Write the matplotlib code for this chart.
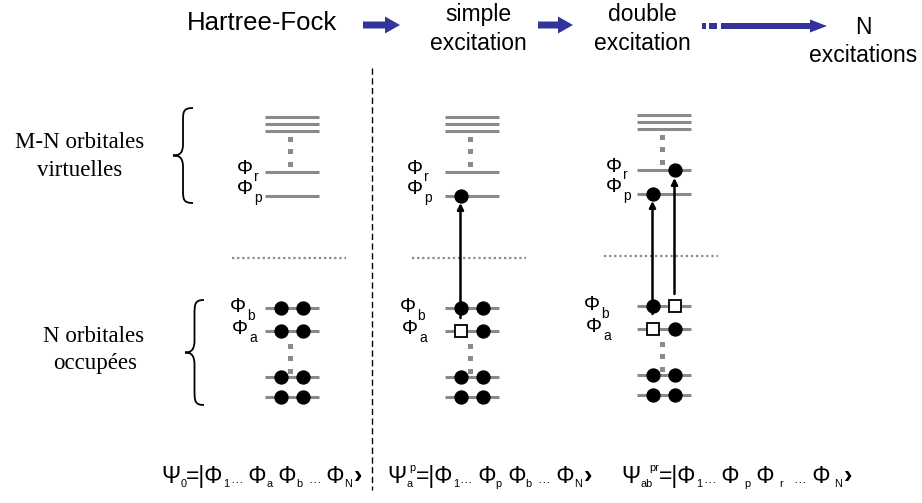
import matplotlib
matplotlib.use("Agg")
import matplotlib.pyplot as plt
from matplotlib.patches import FancyArrow, Rectangle, PathPatch
from matplotlib.path import Path

# --- diagram data (pixel units, y grows downwards) ---
panel_x0 = [265, 445, 637]          # left end of the orbital levels
panel_dy = [0, 0, -2]
level_len = 54
virt_stack_y = [117, 124, 131]
virt_dash_y = [139, 151, 164]
phi_r_y = 172
phi_p_y = 196
occ_b_y = 308
occ_a_y = 331
occ_low_y = [377, 397]
occ_dash_y = [346, 358, 371]
sep_y = 258
slot_dx = [15.5, 37.5]
dash_dx = 24.5

# e = electron, h = hole, - = empty  (one string per panel, two slots)
occ_r = ["--", "--", "-e"]
occ_p = ["--", "e-", "e-"]
occ_b = ["ee", "ee", "eh"]
occ_a = ["ee", "he", "he"]
occ_low = ["ee", "ee", "ee"]

# (slot, y_from, y_to) per panel
exc_arrows = [[], [(0, 318, 203)], [(0, 314, 201), (1, 294, 178)]]

label_x_rp = [245, 415, 614]
label_x_ba = [238, 408, 592]

top_titles = [("Hartree-Fock", 262, 23, 18.5),
              ("simple", 478, 14, 16.5), ("excitation", 478, 43, 16.5),
              ("double", 642, 14, 16.5), ("excitation", 642, 43, 16.5),
              ("N", 863, 27, 16.5), ("excitations", 863, 55, 16.5)]

f1 = [("Ψ", "n"), ("0", "sub"), ("=|Φ", "n"), ("1", "sub"), ("…", "dots"),
      (" Φ", "n"), ("a", "sub"), (" Φ", "n"), ("b", "sub"), (" ", "n"),
      ("…", "dots"), (" Φ", "n"), ("N", "sub"), ("›", "b")]
f2 = [("Ψ", "n"), ("a", "sub"), ("p", "sup"), ("=|Φ", "n"), ("1", "sub"),
      ("…", "dots"), (" Φ", "n"), ("p", "sub"), (" Φ", "n"), ("b", "sub"),
      (" ", "n"), ("…", "dots"), (" Φ", "n"), ("N", "sub"), ("›", "b")]
f3 = [("Ψ", "n"), ("ab", "sub"), ("pr", "sup"), ("=|Φ", "n"), ("1", "sub"),
      ("…", "dots"), (" Φ", "n"), ("p", "sub"), (" Φ", "n"), ("r", "sub"),
      (" ", "n"), ("…", "dots"), (" Φ", "n"), ("N", "sub"), ("›", "b")]
formula_x = [161, 387, 621]
formula_end = [362, 592, 852]
formula_base = 483

GRAY = "#8a8a8a"
BLUE = "#33339a"
SANS = ["Liberation Sans", "DejaVu Sans"]
NARROW = ["Liberation Sans Narrow", "Liberation Sans", "DejaVu Sans"]
SERIF = ["Liberation Serif", "DejaVu Serif"]

W, H = 922, 503
fig = plt.figure(figsize=(W / 100, H / 100), dpi=100)
ax = fig.add_axes([0, 0, 1, 1])
ax.set_xlim(0, W)
ax.set_ylim(H, 0)
ax.axis("off")


def hline(x0, y):
    ax.plot([x0, x0 + level_len], [y, y], color=GRAY, lw=2.2,
            solid_capstyle="butt", zorder=1)


def occupy(x0, y, code):
    for dx, c in zip(slot_dx, code):
        if c == "e":
            ax.plot(x0 + dx, y, "o", ms=9.3, color="k", zorder=4)
        elif c == "h":
            ax.plot(x0 + dx, y, "s", ms=8, mfc="white", mec="k", mew=1.3,
                    zorder=4)


def phi_label(x, y, sub):
    ax.text(x, y, "Φ", fontsize=14.5, family=SANS, ha="center", va="center")
    ax.text(x + 9, y + 9, sub, fontsize=10, family=SANS, ha="left",
            va="center")


def brace(xl, xr, yt, yb):
    xs = xl + 0.5 * (xr - xl)
    h = yb - yt
    ym = (yt + yb) / 2
    verts = [(xr, yt),
             (xs, yt), (xs, yt + 0.04 * h), (xs, yt + 0.15 * h),
             (xs, ym - 0.12 * h),
             (xs, ym - 0.03 * h), (xs - 0.3 * (xs - xl), ym), (xl, ym),
             (xs - 0.3 * (xs - xl), ym), (xs, ym + 0.03 * h), (xs, ym + 0.12 * h),
             (xs, yb - 0.15 * h),
             (xs, yb - 0.04 * h), (xs, yb), (xr, yb)]
    codes = [Path.MOVETO] + [Path.CURVE4] * 3 + [Path.LINETO] + \
        [Path.CURVE4] * 6 + [Path.LINETO] + [Path.CURVE4] * 3
    ax.add_patch(PathPatch(Path(verts, codes), fill=False, lw=1.3,
                           color="k"))


for i, x0 in enumerate(panel_x0):
    dy = panel_dy[i]
    for y in virt_stack_y:
        hline(x0, y + dy)
    ax.plot([x0 + dash_dx] * 3, [y + dy for y in virt_dash_y], "s",
            ms=3.6, color=GRAY, mew=0)
    hline(x0, phi_r_y + dy)
    hline(x0, phi_p_y + dy)
    ax.plot([x0 - 33, x0 + 81], [sep_y + dy] * 2, color=GRAY, lw=1.6,
            ls=(0, (1, 1.3)))
    hline(x0, occ_b_y + dy)
    hline(x0, occ_a_y + dy)
    ax.plot([x0 + dash_dx] * 3, [y + dy for y in occ_dash_y], "s",
            ms=3.6, color=GRAY, mew=0)
    for y in occ_low_y:
        hline(x0, y + dy)
        occupy(x0, y + dy, occ_low[i])
    occupy(x0, phi_r_y + dy, occ_r[i])
    occupy(x0, phi_p_y + dy, occ_p[i])
    occupy(x0, occ_b_y + dy, occ_b[i])
    occupy(x0, occ_a_y + dy, occ_a[i])
    for slot, y_from, y_to in exc_arrows[i]:
        xa = x0 + slot_dx[slot]
        ax.annotate("", xy=(xa, y_to), xytext=(xa, y_from),
                    arrowprops=dict(arrowstyle="-|>", lw=1.8, color="k",
                                    mutation_scale=9, shrinkA=0, shrinkB=0),
                    zorder=3)
    phi_label(label_x_rp[i], phi_r_y + dy - 4, "r")
    phi_label(label_x_rp[i], phi_p_y + dy - 7, "p")
    phi_label(label_x_ba[i], occ_b_y + dy - 1, "b")
    phi_label(label_x_ba[i] + 2, occ_a_y + dy - 2, "a")

# separator between HF and excited determinants
ax.plot([372, 372], [68, 490], color="k", lw=1.0, ls=(0, (4.5, 2.5)))

# braces + left captions
brace(173, 193, 108, 203)
brace(185, 204, 300, 405)
ax.text(80, 143, "M-N orbitales", fontsize=16.5, family=SERIF, ha="center",
        va="center")
ax.text(80, 170, "virtuelles", fontsize=16.5, family=SERIF, ha="center",
        va="center")
ax.text(94, 337, "N orbitales", fontsize=16.5, family=SERIF, ha="center",
        va="center")
ax.text(95, 363, "occupées", fontsize=16.5, family=SERIF, ha="center",
        va="center")

# top row
for s, x, y, fs in top_titles:
    ax.text(x, y, s, fontsize=fs, family=SANS, ha="center", va="center")
ax.add_patch(FancyArrow(363, 25, 37, 0, width=7, head_width=17,
                        head_length=15, length_includes_head=True,
                        color=BLUE, lw=0))
ax.add_patch(FancyArrow(538, 25, 35, 0, width=7, head_width=17,
                        head_length=15, length_includes_head=True,
                        color=BLUE, lw=0))
ax.add_patch(Rectangle((702, 23), 4, 6, color=BLUE, lw=0))
ax.add_patch(Rectangle((709, 23), 8, 6, color=BLUE, lw=0))
ax.add_patch(FancyArrow(721, 26, 106, 0, width=6, head_width=13,
                        head_length=17, length_includes_head=True,
                        color=BLUE, lw=0))

# bottom formulas
renderer = fig.canvas.get_renderer()


def piece_style(kind, size):
    # fontsize, baseline offset, weight, x shift before the piece
    if kind == "sub":
        return size * 0.48, 4, "normal", 0
    if kind == "sup":
        return size * 0.48, -12, "normal", -3
    if kind == "dots":
        return size * 0.55, 0, "normal", 0
    if kind == "b":
        return size * 1.1, 0, "bold", 1.5
    return size, 0, "normal", 0


def text_width(s, fs, weight):
    t = ax.text(0, 0, s, fontsize=fs, family=NARROW, weight=weight)
    w = t.get_window_extent(renderer).width
    t.remove()
    return w


def formula(x, x_end, parts, size=16.5):
    # natural width first, then spread the difference over the blanks
    total = 0
    n_blank = 0
    for s, kind in parts:
        fs, _, weight, shift = piece_style(kind, size)
        total += shift + text_width(s, fs, weight)
        n_blank += s.startswith(" ")
    gap = (x_end - x - total) / n_blank
    for s, kind in parts:
        fs, dy, weight, shift = piece_style(kind, size)
        x += shift
        t = ax.text(x, formula_base + dy, s, fontsize=fs, family=NARROW,
                    weight=weight, ha="left", va="baseline")
        x += t.get_window_extent(renderer).width
        if s.startswith(" "):
            x += gap


for fx, fe, parts in zip(formula_x, formula_end, [f1, f2, f3]):
    formula(fx, fe, parts)

fig.savefig("out.png", dpi=100)
